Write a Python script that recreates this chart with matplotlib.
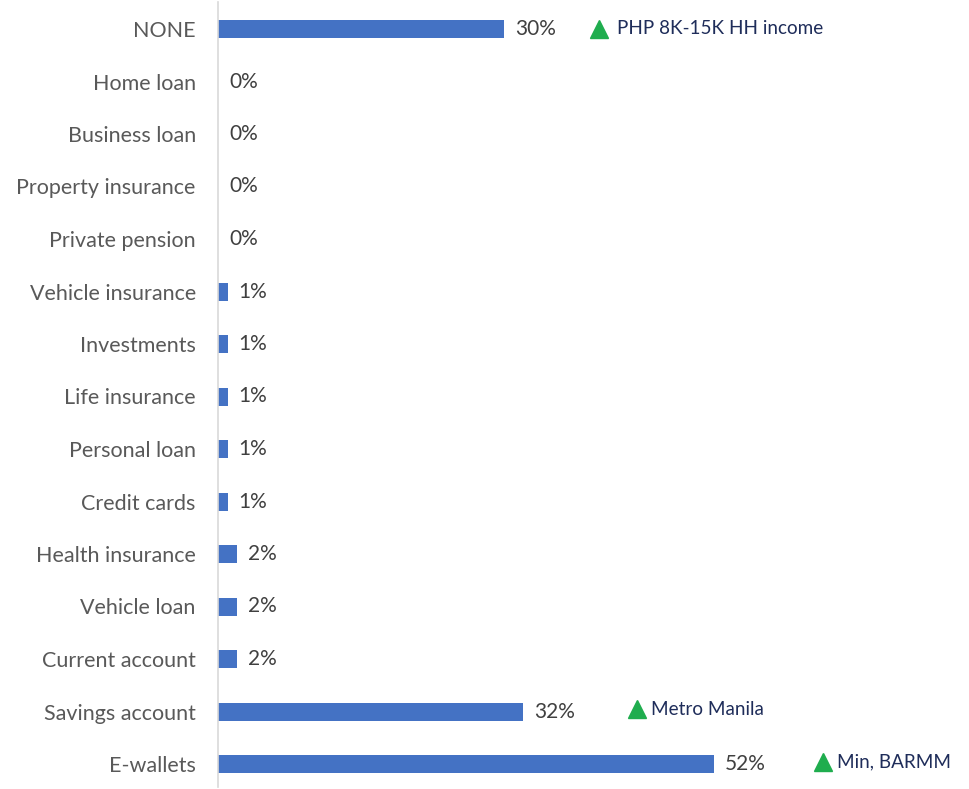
import matplotlib.pyplot as plt

# product ownership shares, top row first
categories = ['NONE', 'Home loan', 'Business loan', 'Property insurance', 'Private pension',
              'Vehicle insurance', 'Investments', 'Life insurance', 'Personal loan',
              'Credit cards', 'Health insurance', 'Vehicle loan', 'Current account',
              'Savings account', 'E-wallets']
values = [30, 0, 0, 0, 0, 1, 1, 1, 1, 1, 2, 2, 2, 32, 52]

# subgroup call-outs: row, triangle x (%), text x (%), text
notes_row = [0, 13, 14]
notes_mark_x = [39.9, 43.9, 63.4]
notes_text_x = [41.8, 45.4, 64.9]
notes_text = ['PHP 8K-15K HH income', 'Metro Manila', 'Min, BARMM']

plt.rcParams['font.family'] = ['Lato', 'DejaVu Sans']

fig = plt.figure(figsize=(9.69, 7.89), dpi=100)
ax = fig.add_axes([218/969, 2/789, 1 - 218/969, 785/789])

n = len(categories)
step = (764 - 29) / (n - 1)
pos = list(range(n))
ax.barh(pos, values, height=18/step, color='#4472C4')

for p, v in zip(pos, values):
    ax.text(v + 1.15, p, f'{v}%', va='center', ha='left', fontsize=15, color='#404040')

for r, mx, tx, t in zip(notes_row, notes_mark_x, notes_text_x, notes_text):
    yy = r - 0.04 if r else r
    ax.plot([mx], [yy], marker='^', markersize=13, color='#1FAD4E', clip_on=False)
    ax.text(tx, yy, t, va='center', ha='left', fontsize=13.6, color='#1F2D5A')

ax.set_xlim(0, 751/9.54)
ax.set_ylim((n - 1) + (787 - 764)/step, -(29 - 2)/step)
ax.set_yticks(pos)
ax.set_yticklabels(categories, fontsize=15.5, color='#595959')
ax.tick_params(axis='y', length=0, pad=16)
ax.set_xticks([])
for s in ['top', 'right', 'bottom']:
    ax.spines[s].set_visible(False)
ax.spines['left'].set_color('#D9D9D9')
ax.spines['left'].set_linewidth(1.2)

fig.savefig('out.png', dpi=100)
